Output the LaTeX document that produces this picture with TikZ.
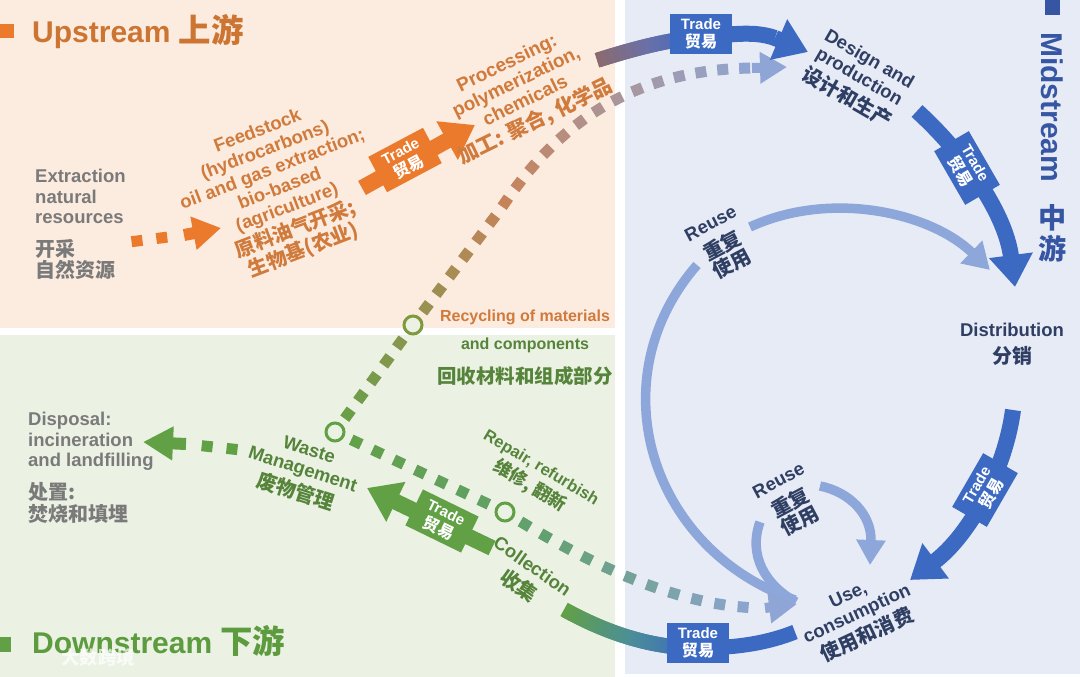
\documentclass[tikz,border=0pt]{standalone}
\usepackage{fontspec}
\setmainfont{Liberation Sans}
\newfontfamily\cjk{Noto Sans CJK SC}[Scale=1.08]
\usetikzlibrary{arrows.meta,decorations.markings}

\definecolor{upbg}{HTML}{FCEBDF}
\definecolor{downbg}{HTML}{EBF2E4}
\definecolor{midbg}{HTML}{E7EBF6}
\definecolor{uporange}{HTML}{EC7A2D}
\definecolor{uptext}{HTML}{D07A3C}
\definecolor{uptitle}{HTML}{CC7431}
\definecolor{greytext}{HTML}{7A7A7A}
\definecolor{dngreen}{HTML}{62A046}
\definecolor{dntext}{HTML}{56843B}
\definecolor{dntitle}{HTML}{5C9B3E}
\definecolor{midblue}{HTML}{3C69C2}
\definecolor{midtext}{HTML}{2F3E63}
\definecolor{midtitle}{HTML}{3656A3}
\definecolor{reuseblue}{HTML}{8EA7DA}
\definecolor{olive}{HTML}{7F9A3E}
\definecolor{rust}{HTML}{C7835A}
\definecolor{mauve}{HTML}{8C6A6E}
\definecolor{dusk}{HTML}{6A70A8}
\definecolor{dotteal}{HTML}{62A070}
\definecolor{bandteal}{HTML}{4C8F96}
\definecolor{dotblue}{HTML}{8FA5D5}

\newcommand\zh[1]{{\cjk #1}}
% colour along a path: #1 at start, #2 half way, #3 at the end
\newcommand\mixcol[3]{%
  \pgfmathsetmacro\gf{200*(\pgfkeysvalueof{/pgf/decoration/mark info/distance from start}/\pgfdecoratedpathlength)}%
  \ifdim\gf pt<100pt\colorlet{mixc}{#2!\gf!#1}%
  \else\pgfmathsetmacro\gf{min(100,\gf-100)}\colorlet{mixc}{#3!\gf!#2}\fi}

\tikzset{
  lbl/.style={font=\bfseries\fontsize{18.5}{20.5}\selectfont, align=center, inner sep=0pt},
  tradebox/.style={fill=#1, text=white, font=\bfseries\fontsize{15}{18}\selectfont, align=center,
    minimum width=62pt, minimum height=40pt, inner sep=1pt},
  flow/.style={draw=#1, line width=16pt, -{Triangle[width=42pt,length=32pt]}},
  reusearc/.style={draw=reuseblue, line width=9.5pt},
  ring/.style={circle, draw=#1, fill=downbg, line width=3pt, minimum size=18pt, inner sep=0pt},
  squaredots/.style n args={4}{decorate, decoration={markings,
    mark=between positions 0 and 1 step #4 with {\mixcol{#1}{#2}{#3}\fill[mixc] (-5.5pt,-5.5pt) rectangle (5.5pt,5.5pt);}}},
  fadeband/.style n args={3}{decorate, decoration={markings,
    mark=between positions 0 and 1 step 1pt with {\mixcol{#1}{#2}{#3}\fill[mixc] (-1.1pt,-7.5pt) rectangle (1.1pt,7.5pt);}}},
}

\begin{document}
\begin{tikzpicture}[x=1pt, y=-1pt]
\useasboundingbox (0,0) rectangle (1080,677);
% the three stream areas
\fill[white] (0,0) rectangle (1080,677);
\fill[upbg] (0,0) rectangle (615,328);
\fill[downbg] (0,335) rectangle (615,677);
\fill[midbg] (625,0) rectangle (1080,674);

% titles
\fill[uporange] (0,24) rectangle (14,38);
\node[anchor=base west, text=uptitle, font=\bfseries\fontsize{30}{30}\selectfont, inner sep=0pt] (upstream) at (32,43) {Upstream \zh{上游}};
\fill[dngreen] (0,637) rectangle (11,652);
\node[anchor=base west, text=dntitle, font=\bfseries\fontsize{30}{30}\selectfont, inner sep=0pt] (downstream) at (32,653) {Downstream \zh{下游}};
\fill[midtitle] (1045,0) rectangle (1060,15);
\node[rotate=-90, anchor=base west, text=midtitle, font=\bfseries\fontsize{30}{30}\selectfont, inner sep=0pt] (midstream) at (1041,32) {Midstream};
\node[text=midtitle, font=\bfseries\fontsize{26}{31}\selectfont, align=center, inner sep=0pt] (midzh) at (1053,233) {\zh{中}\\\zh{游}};

% end points of the connectors
\coordinate (extrOut) at (137,241);
\coordinate (feedStub) at (184,235);
\coordinate (feedIn) at (221,228);
\coordinate (feedOut) at (362,188);
\coordinate (procIn) at (475,125);
\coordinate (procOut) at (598,60);
\coordinate (tradeTopMid) at (700,37);
\coordinate (desShaft) at (775,38);
\coordinate (desIn) at (808,52);
\coordinate (desOut) at (917,111);
\coordinate (distIn) at (1015,287);
\coordinate (distOut) at (1013,410);
\coordinate (useIn) at (910,580);
\coordinate (wasteHub) at (335,432);
\coordinate (recHub) at (413,325);
\coordinate (collHub) at (505,512);
\coordinate (recBend) at (500,210);
\coordinate (recEnd) at (752,68);
\coordinate (desDot) at (787,67);
\coordinate (repEnd) at (765,608);
\coordinate (useDot) at (797,604);
\coordinate (wasteOut) at (232,449);
\coordinate (dispStub) at (186,444);
\coordinate (dispIn) at (143,442);
\coordinate (collOut) at (492,548);
\coordinate (wasteIn) at (367,488);
\coordinate (collBand) at (565,610);
\coordinate (tradeBotMid) at (698,648);
\coordinate (useBand) at (795,632);
\coordinate (reuseTopOut) at (750,227);
\coordinate (reuseTopIn) at (697,265);
\coordinate (distReuse) at (990,270);
\coordinate (useReuseA) at (795,600);
\coordinate (reuseLowIn) at (760,522);
\coordinate (useReuseB) at (796,602);
\coordinate (reuseLowOut) at (820,486);
\coordinate (useReuseC) at (870,565);

% reuse loops
\draw[reusearc, -{Triangle[width=30pt,length=26pt]}] (reuseTopOut) .. controls (830,190) and (930,212) .. (distReuse);
\draw[reusearc] (reuseTopIn) .. controls (597,380) and (650,550) .. (useReuseA);
\draw[reusearc] (reuseLowIn) .. controls (748,555) and (765,585) .. (useReuseB);
\draw[reusearc, -{Triangle[width=28pt,length=25pt]}] (reuseLowOut) .. controls (850,492) and (872,515) .. (useReuseC);

% dotted flows
\path[squaredots={uporange}{uporange}{uporange}{25pt}] (extrOut) -- (feedStub);
\draw[uporange, line width=12pt, -{Triangle[width=32pt,length=28pt]}] (feedStub) -- (feedIn);
\path[squaredots={dngreen}{rust}{dotblue}{22pt}] (wasteHub) -- (recHub) -- (recBend) .. controls (550,135) and (620,70) .. (recEnd);
\draw[dotblue, line width=10pt, -{Triangle[width=30pt,length=27pt]}] (recEnd) -- (desDot);
\path[squaredots={dngreen}{dotteal}{dotblue}{23.5pt}] (wasteHub) -- (collHub) .. controls (590,565) and (680,608) .. (repEnd);
\draw[dotblue, line width=10pt, -{Triangle[width=30pt,length=28pt]}] (repEnd) -- (useDot);
\path[squaredots={dngreen}{dngreen}{dngreen}{25pt}] (wasteOut) -- (dispStub);
\draw[dngreen, line width=12pt, -{Triangle[width=32pt,length=30pt]}] (dispStub) -- (dispIn);
\node[ring=olive] (recRing) at (recHub) {};
\node[ring=dngreen] (wasteRing) at (wasteHub) {};
\node[ring=dngreen] (collRing) at (collHub) {};

% trade flows
\draw[flow=uporange] (feedOut) -- (procIn);
\path[fadeband={mauve}{dusk}{midblue}] (procOut) .. controls (630,50) and (665,40) .. (tradeTopMid);
\draw[midblue, line width=16pt] (tradeTopMid) .. controls (735,34) and (755,31) .. (desShaft);
\draw[flow=midblue] (desShaft) -- (desIn);
\draw[flow=midblue] (desOut) .. controls (960,150) and (1005,210) .. (distIn);
\draw[flow=midblue] (distOut) .. controls (1005,470) and (970,535) .. (useIn);
\draw[flow=dngreen] (collOut) -- (wasteIn);
\path[fadeband={dngreen}{bandteal}{midblue}] (collBand) .. controls (605,632) and (650,648) .. (tradeBotMid);
\draw[midblue, line width=15pt] (tradeBotMid) .. controls (740,648) and (770,642) .. (useBand);

\node[tradebox=uporange, rotate=28] (tradeUp) at (405,160) {Trade\\\zh{贸易}};
\node[tradebox=midblue] (tradeTop) at (701,34) {Trade\\\zh{贸易}};
\node[tradebox=midblue, rotate=-60] (tradeRight) at (967,168) {Trade\\\zh{贸易}};
\node[tradebox=midblue, rotate=60] (tradeLow) at (985,490) {Trade\\\zh{贸易}};
\node[tradebox=midblue] (tradeBottom) at (698,643) {Trade\\\zh{贸易}};
\node[tradebox=dngreen, rotate=-26] (tradeDown) at (442,521) {Trade\\\zh{贸易}};

% stage labels
\node[lbl, text=greytext, align=left, anchor=north west] (extraction) at (35,169) {Extraction\\natural\\resources\\[12pt]\zh{开采}\\[1pt]\zh{自然资源}};
\node[lbl, text=uptext, rotate=21] (feedstock) at (281,192) {Feedstock\\(hydrocarbons)\\oil and gas extraction;\\bio-based\\(agriculture)\\[2pt]\zh{原料油气开采;}\\\zh{生物基(农业)}};
\node[lbl, text=uptext, rotate=26, font=\bfseries\fontsize{19}{21}\selectfont] (processing) at (522,94) {Processing:\\polymerization,\\chemicals\\[3pt]\zh{加工: 聚合, 化学品}};
\node[lbl, text=midtext, rotate=-30] (design) at (858,79) {Design and\\production\\[3pt]\zh{设计和生产}};
\node[lbl, text=midtext, anchor=north] (distribution) at (1012,323) {Distribution\\[6pt]\zh{分销}};
\node[lbl, text=midtext, rotate=25] (use) at (858,616) {Use,\\consumption\\[3pt]\zh{使用和消费}};
\node[lbl, text=midtext, rotate=28] (reuseTop) at (722,245) {Reuse\\[6pt]\zh{重复}\\\zh{使用}};
\node[lbl, text=midtext, rotate=28] (reuseLow) at (790,502) {Reuse\\[6pt]\zh{重复}\\\zh{使用}};
\node[lbl, text=dntext, rotate=-18] (waste) at (302,472) {Waste\\Management\\[3pt]\zh{废物管理}};
\node[lbl, text=dntext, rotate=-31, font=\bfseries\fontsize{16.5}{19}\selectfont] (repair) at (535,478) {Repair, refurbish\\[3pt]\zh{维修, 翻新}};
\node[lbl, text=dntext, rotate=-35] (collection) at (525,577) {Collection\\[4pt]\zh{收集}};
\node[lbl, text=greytext, align=left, anchor=north west] (disposal) at (28,412) {Disposal:\\incineration\\and landfilling\\[11pt]\zh{处置:}\\[1pt]\zh{焚烧和填埋}};
\node[lbl, anchor=north, font=\bfseries\fontsize{16}{18}\selectfont] (recycling) at (525,310) {\textcolor{uptext}{Recycling of materials}\\[10pt]\textcolor{dntext}{and components}\\[12pt]{\fontsize{18}{18}\selectfont\color{dntext}\zh{回收材料和组成部分}}};
\node[text=white, opacity=0.7, font=\bfseries\fontsize{17}{17}\selectfont, inner sep=0pt] (watermark) at (98,657) {\zh{大数跨境}};
\end{tikzpicture}
\end{document}
